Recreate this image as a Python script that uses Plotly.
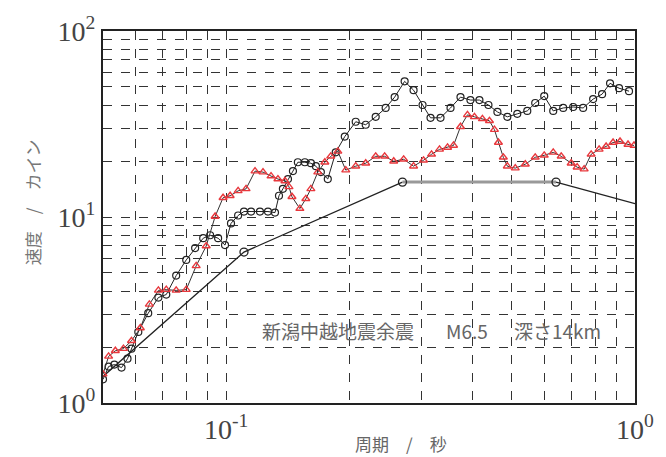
import plotly.graph_objects as go

# Period (s) and velocity response (kine)
black_T = [0.050, 0.0516, 0.0533, 0.0555, 0.0574, 0.0587, 0.0610, 0.0645, 0.0683, 0.0714,
           0.0755, 0.0799, 0.0840, 0.0879, 0.0914, 0.0956, 0.0994, 0.1028, 0.1070, 0.1106,
           0.1151, 0.1210, 0.1266, 0.1317, 0.1347, 0.1377, 0.1417, 0.1457, 0.1498, 0.1558,
           0.1612, 0.1658, 0.1705, 0.1773, 0.1854, 0.1951, 0.2075, 0.2195, 0.2322, 0.2456,
           0.2584, 0.2733, 0.2874, 0.3023, 0.3162, 0.3345, 0.3539, 0.3743, 0.3959, 0.4164,
           0.4381, 0.4608, 0.4873, 0.5154, 0.5452, 0.5701, 0.5998, 0.6310, 0.6675, 0.7061,
           0.7468, 0.7900, 0.8309, 0.8690, 0.9141, 0.9669]
black_v = [1.34, 1.57, 1.61, 1.55, 1.73, 1.96, 2.41, 3.04, 3.69, 3.83,
           4.84, 5.88, 6.81, 7.69, 7.98, 7.69, 7.06, 9.24, 10.19, 10.70,
           10.70, 10.70, 10.70, 10.56, 13.01, 14.17, 16.00, 17.65, 19.70, 19.70,
           19.46, 18.76, 17.43, 16.00, 22.26, 27.06, 32.51, 31.34, 34.56, 38.57,
           44.12, 53.63, 48.06, 40.00, 34.14, 34.14, 38.57, 44.12, 42.53, 42.53,
           40.00, 36.73, 34.56, 35.85, 37.19, 41.00, 44.66, 37.19, 38.57, 39.04,
           38.57, 43.05, 45.77, 52.34, 49.25, 47.48]

red_T = [0.050, 0.0516, 0.0536, 0.0561, 0.0587, 0.0617, 0.0649, 0.0683, 0.0714, 0.0755,
         0.0799, 0.0845, 0.0894, 0.0940, 0.0983, 0.1023, 0.1070, 0.1119, 0.1177, 0.1231,
         0.1288, 0.1339, 0.1393, 0.1425, 0.1449, 0.1515, 0.1567, 0.1612, 0.1676, 0.1744,
         0.1803, 0.1876, 0.1962, 0.2075, 0.2195, 0.2322, 0.2442, 0.2570, 0.2718, 0.2874,
         0.3040, 0.3180, 0.3326, 0.3480, 0.3599, 0.3743, 0.3893, 0.4049, 0.4235, 0.4406,
         0.4531, 0.4634, 0.4764, 0.4873, 0.5096, 0.5391, 0.5701, 0.5998, 0.6310, 0.6600,
         0.6981, 0.7220, 0.7510, 0.7812, 0.8170, 0.8498, 0.8838, 0.9192, 0.9614, 0.9944]
red_v = [1.43, 1.78, 1.91, 1.96, 2.16, 2.53, 3.39, 4.03, 4.07, 4.03,
         4.07, 5.46, 6.98, 10.06, 12.69, 13.01, 13.82, 14.17, 17.65, 17.43,
         16.60, 16.00, 15.62, 14.52, 12.85, 11.10, 12.53, 14.17, 17.43, 19.70,
         21.20, 22.53, 17.87, 18.76, 19.46, 21.20, 21.20, 19.94, 20.43, 18.76,
         20.18, 21.73, 23.09, 23.66, 24.25, 30.58, 35.41, 34.56, 33.72, 32.91,
         29.48, 25.15, 20.94, 18.76, 18.31, 19.22, 20.94, 21.46, 22.26, 21.20,
         19.46, 18.53, 18.09, 21.73, 23.09, 23.95, 25.15, 25.46, 24.55, 24.25]

design_T = [0.050, 0.1106, 0.270, 0.641, 1.0]
design_v = [1.39, 6.48, 15.4, 15.4, 11.8]

x_major = [0.1, 1.0]
x_major_labels = ["10<sup>-1</sup>", "10<sup>0</sup>"]
x_minor = [0.05, 0.06, 0.07, 0.08, 0.09, 0.2, 0.3, 0.4, 0.5, 0.6, 0.7, 0.8, 0.9]
y_major = [1, 10, 100]
y_major_labels = ["10<sup>0</sup>", "10<sup>1</sup>", "10<sup>2</sup>"]
y_minor = [2, 3, 4, 5, 6, 7, 8, 9, 20, 30, 40, 50, 60, 70, 80, 90]

fig = go.Figure()

# design spectrum: rising part
fig.add_trace(go.Scatter(x=design_T[:3], y=design_v[:3], mode="lines",
                         line=dict(color="#222", width=1.3), showlegend=False))
# flat part (gray, thicker)
fig.add_trace(go.Scatter(x=design_T[2:4], y=design_v[2:4], mode="lines",
                         line=dict(color="#999", width=3), showlegend=False))
# descending part
fig.add_trace(go.Scatter(x=design_T[3:], y=design_v[3:], mode="lines",
                         line=dict(color="#222", width=1.3), showlegend=False))
# markers at vertices
fig.add_trace(go.Scatter(x=design_T[1:4], y=design_v[1:4], mode="markers",
                         marker=dict(symbol="circle-open", size=8, color="#222",
                                     line=dict(width=1.3)),
                         showlegend=False))

fig.add_trace(go.Scatter(x=black_T, y=black_v, mode="lines+markers",
                         line=dict(color="#222", width=1),
                         marker=dict(symbol="circle-open", size=7, color="#222",
                                     line=dict(width=1.2)),
                         showlegend=False))
fig.add_trace(go.Scatter(x=red_T, y=red_v, mode="lines+markers",
                         line=dict(color="#333", width=1),
                         marker=dict(symbol="triangle-up-open", size=7, color="#e8383d",
                                     line=dict(width=1.4)),
                         showlegend=False))

grid = dict(showgrid=True, gridcolor="#333", gridwidth=1.1, griddash="dash")
tickfont = dict(family="Liberation Serif", size=28, color="#444")

def minor(vals):
    return dict(tickmode="array", tickvals=vals, ticks="", showgrid=True,
                gridcolor="#333", gridwidth=1.1, griddash="dash")

fig.update_xaxes(type="log", range=[-1.30103, 0], tickmode="array", tickvals=x_major,
                 ticktext=x_major_labels, minor=minor(x_minor),
                 tickfont=tickfont, showline=True, linecolor="#222", linewidth=2,
                 mirror=True, zeroline=False, ticks="", **grid)
fig.update_yaxes(type="log", range=[0, 2], tickmode="array", tickvals=y_major,
                 ticktext=y_major_labels, minor=minor(y_minor),
                 tickfont=tickfont, showline=True, linecolor="#222", linewidth=2,
                 mirror=True, zeroline=False, ticks="", **grid)

cjk = "Noto Sans CJK JP"
annots = [
    dict(text="新潟中越地震余震", x=0.441, y=0.196, size=19),
    dict(text="M6.5", x=0.684, y=0.196, size=19),
    dict(text="深さ14km", x=0.854, y=0.196, size=19),
    dict(text="周期　/　秒", x=0.561, y=-0.108, size=17),
]
for a in annots:
    fig.add_annotation(text=a["text"], x=a["x"], y=a["y"], xref="paper", yref="paper",
                       xanchor="center", yanchor="middle", showarrow=False,
                       font=dict(family=cjk, size=a["size"], color="#666"))
fig.add_annotation(text="速度　/　カイン", x=-0.1327, y=0.541, xref="paper", yref="paper",
                   xanchor="center", yanchor="middle", showarrow=False, textangle=-90,
                   font=dict(family=cjk, size=17, color="#777"))

fig.update_layout(width=666, height=457, margin=dict(l=103, r=28, t=30, b=50),
                  plot_bgcolor="white", paper_bgcolor="white")

fig.write_html("out.html")
